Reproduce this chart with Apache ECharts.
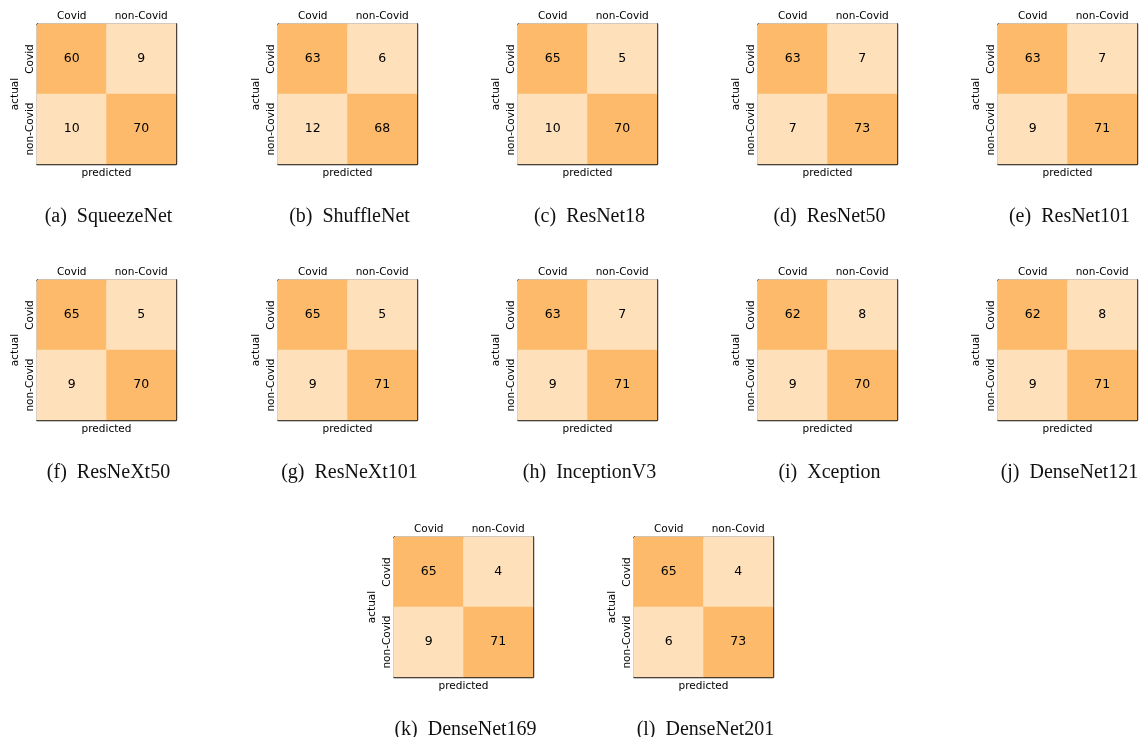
<!DOCTYPE html>
<html>
<head>
<meta charset="utf-8">
<script src="https://cdn.jsdelivr.net/npm/echarts@6/dist/echarts.min.js"></script>
<style>
html,body{margin:0;padding:0;background:#fff}
#c{width:1140px;height:737px}
</style>
</head>
<body>
<div id="c"></div>
<script>
var classes = ["Covid", "non-Covid"];
var captions = ["(a)  SqueezeNet", "(b)  ShuffleNet", "(c)  ResNet18", "(d)  ResNet50", "(e)  ResNet101",
  "(f)  ResNeXt50", "(g)  ResNeXt101", "(h)  InceptionV3", "(i)  Xception", "(j)  DenseNet121",
  "(k)  DenseNet169", "(l)  DenseNet201"];
// [actual Covid -> pred Covid, pred non-Covid, actual non-Covid -> pred Covid, pred non-Covid]
var squeezeNet = [60, 9, 10, 70];
var shuffleNet = [63, 6, 12, 68];
var resNet18 = [65, 5, 10, 70];
var resNet50 = [63, 7, 7, 73];
var resNet101 = [63, 7, 9, 71];
var resNeXt50 = [65, 5, 9, 70];
var resNeXt101 = [65, 5, 9, 71];
var inceptionV3 = [63, 7, 9, 71];
var xception = [62, 8, 9, 70];
var denseNet121 = [62, 8, 9, 71];
var denseNet169 = [65, 4, 9, 71];
var denseNet201 = [65, 4, 6, 73];
var matrices = [squeezeNet, shuffleNet, resNet18, resNet50, resNet101, resNeXt50, resNeXt101,
  inceptionV3, xception, denseNet121, denseNet169, denseNet201];

var lefts = [37, 278, 518, 758, 998, 37, 278, 518, 758, 998, 394, 634];
var tops = [24, 24, 24, 24, 24, 280, 280, 280, 280, 280, 537, 537, 537];
var W = 139, H = 140;
var lbl = {color: "#000", fontFamily: "DejaVu Sans", fontSize: 10.5};
var line = {show: true, lineStyle: {color: "#111", width: 1.4}};

var grid = [], xAxis = [], yAxis = [], series = [], title = [];
matrices.forEach(function (m, i) {
  grid.push({left: lefts[i], top: tops[i], width: W, height: H});
  xAxis.push({type: "category", gridIndex: i, data: classes, position: "top",
    axisLine: line, axisTick: {show: false}, axisLabel: Object.assign({margin: 2}, lbl),
    splitLine: {show: false}});
  xAxis.push({type: "category", gridIndex: i, data: classes, position: "bottom",
    axisLine: line, axisTick: {show: false}, axisLabel: {show: false},
    name: "predicted", nameLocation: "middle", nameGap: 4, nameTextStyle: lbl});
  yAxis.push({type: "category", gridIndex: i, data: classes, inverse: true, position: "left",
    axisLine: line, axisTick: {show: false},
    axisLabel: Object.assign({margin: 1, rotate: 90}, lbl),
    name: "actual", nameLocation: "middle", nameGap: 16, nameRotate: 90, nameTextStyle: lbl});
  yAxis.push({type: "category", gridIndex: i, data: classes, inverse: true, position: "right",
    axisLine: line, axisTick: {show: false}, axisLabel: {show: false}});
  series.push({type: "heatmap", xAxisIndex: 2 * i, yAxisIndex: 2 * i,
    data: [[0, 0, m[0]], [1, 0, m[1]], [0, 1, m[2]], [1, 1, m[3]]],
    label: {show: true, color: "#000", fontFamily: "DejaVu Sans", fontSize: 12.5,
      formatter: function (p) { return p.value[2]; }},
    emphasis: {disabled: true}});
  title.push({text: captions[i], left: lefts[i] + W / 2 - 3, top: tops[i] + 178, textAlign: "center",
    textStyle: {fontFamily: "Liberation Serif", fontWeight: "normal", fontSize: 20, color: "#111"}});
});

var chart = echarts.init(document.getElementById("c"));
chart.setOption({
  animation: false,
  backgroundColor: "#fff",
  title: title,
  grid: grid,
  xAxis: xAxis,
  yAxis: yAxis,
  visualMap: {type: "piecewise", show: false, seriesIndex: series.map(function (s, i) { return i; }),
    pieces: [{min: 0, max: 30, color: "#fee0ba"}, {min: 30, max: 100, color: "#fdba6b"}]},
  series: series
});
</script>
</body>
</html>
